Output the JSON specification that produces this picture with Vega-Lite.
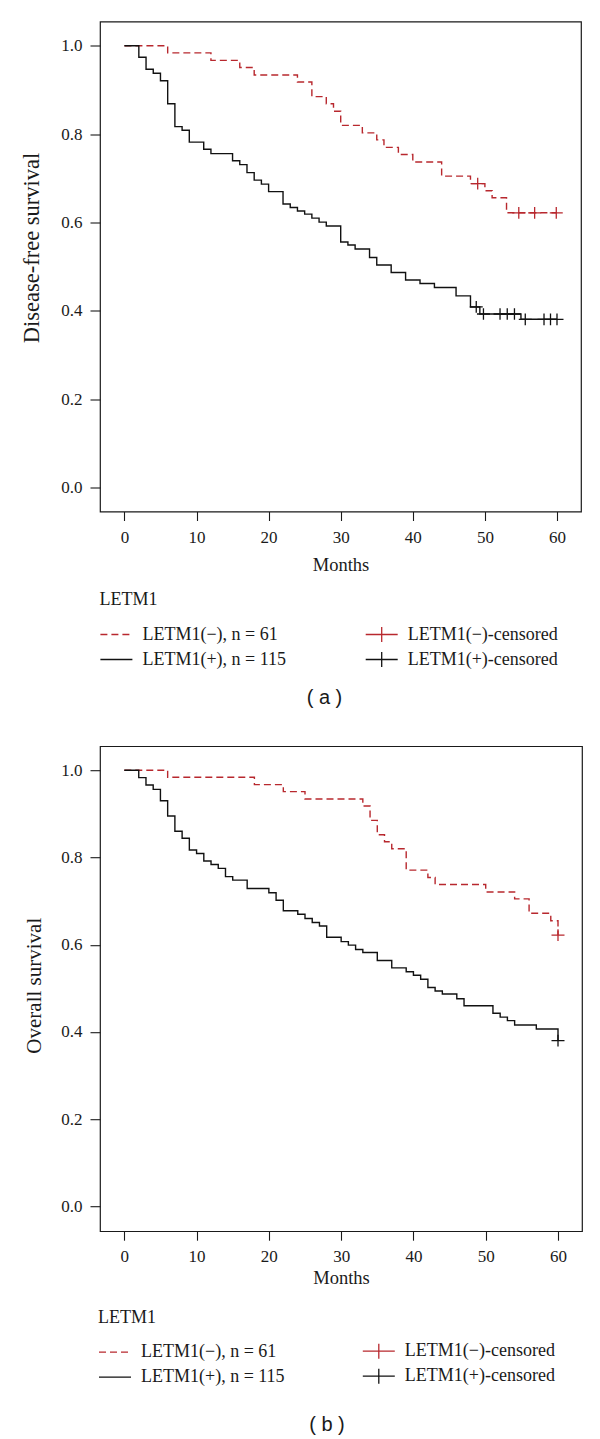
{
  "$schema": "https://vega.github.io/schema/vega-lite/v6.json",
  "padding": {"left": 20, "top": 20.5, "right": 0, "bottom": 0},
  "background": "white",
  "spacing": 36.7,
  "config": {
    "font": "Liberation Serif",
    "view": {"stroke": "#1a1a1a", "strokeWidth": 1.2},
    "axis": {"domain": false, "grid": false, "tickColor": "#1a1a1a", "tickWidth": 1.1, "labelFont": "Liberation Serif", "labelFontSize": 17, "labelColor": "#1a1a1a", "titleFont": "Liberation Serif", "titleFontWeight": "normal", "titleColor": "#1a1a1a", "labelFlush": false, "labelOverlap": false},
    "axisX": {"tickSize": 9, "labelPadding": 8.5, "titleFontSize": 18.5},
    "axisY": {"tickSize": 10, "labelPadding": 8, "titleFontSize": 21},
    "legend": {"orient": "none", "padding": 0, "offset": 0, "labelFont": "Liberation Serif", "labelFontSize": 18, "labelFontWeight": "normal", "labelColor": "#1a1a1a", "labelLimit": 400, "titleFont": "Liberation Serif", "titleFontSize": 18, "titleFontWeight": "normal", "titleColor": "#1a1a1a", "clipHeight": 18, "rowPadding": 7, "labelOffset": 9, "symbolStrokeWidth": 1.3, "symbolSize": 1024},
    "title": {"font": "Liberation Sans", "fontSize": 20, "fontWeight": "normal", "color": "#1a1a1a"}
  },
  "datasets": {
    "curves": [
      {"panel": "a", "group": "LETM1(−), n = 61", "month": 0, "surv": 1},
      {"panel": "a", "group": "LETM1(−), n = 61", "month": 6, "surv": 0.984},
      {"panel": "a", "group": "LETM1(−), n = 61", "month": 12, "surv": 0.967},
      {"panel": "a", "group": "LETM1(−), n = 61", "month": 16, "surv": 0.951},
      {"panel": "a", "group": "LETM1(−), n = 61", "month": 18, "surv": 0.934},
      {"panel": "a", "group": "LETM1(−), n = 61", "month": 24, "surv": 0.918},
      {"panel": "a", "group": "LETM1(−), n = 61", "month": 26, "surv": 0.885},
      {"panel": "a", "group": "LETM1(−), n = 61", "month": 28, "surv": 0.869},
      {"panel": "a", "group": "LETM1(−), n = 61", "month": 29, "surv": 0.852},
      {"panel": "a", "group": "LETM1(−), n = 61", "month": 30, "surv": 0.82},
      {"panel": "a", "group": "LETM1(−), n = 61", "month": 33, "surv": 0.803},
      {"panel": "a", "group": "LETM1(−), n = 61", "month": 35, "surv": 0.787},
      {"panel": "a", "group": "LETM1(−), n = 61", "month": 36, "surv": 0.77},
      {"panel": "a", "group": "LETM1(−), n = 61", "month": 38, "surv": 0.754},
      {"panel": "a", "group": "LETM1(−), n = 61", "month": 40, "surv": 0.737},
      {"panel": "a", "group": "LETM1(−), n = 61", "month": 44, "surv": 0.705},
      {"panel": "a", "group": "LETM1(−), n = 61", "month": 48, "surv": 0.688},
      {"panel": "a", "group": "LETM1(−), n = 61", "month": 50, "surv": 0.672},
      {"panel": "a", "group": "LETM1(−), n = 61", "month": 51, "surv": 0.656},
      {"panel": "a", "group": "LETM1(−), n = 61", "month": 53, "surv": 0.622},
      {"panel": "a", "group": "LETM1(−), n = 61", "month": 60, "surv": 0.622},
      {"panel": "a", "group": "LETM1(+), n = 115", "month": 0, "surv": 1},
      {"panel": "a", "group": "LETM1(+), n = 115", "month": 2, "surv": 0.974},
      {"panel": "a", "group": "LETM1(+), n = 115", "month": 3, "surv": 0.947},
      {"panel": "a", "group": "LETM1(+), n = 115", "month": 4, "surv": 0.938},
      {"panel": "a", "group": "LETM1(+), n = 115", "month": 5, "surv": 0.921},
      {"panel": "a", "group": "LETM1(+), n = 115", "month": 6, "surv": 0.869},
      {"panel": "a", "group": "LETM1(+), n = 115", "month": 7, "surv": 0.817},
      {"panel": "a", "group": "LETM1(+), n = 115", "month": 8, "surv": 0.809},
      {"panel": "a", "group": "LETM1(+), n = 115", "month": 9, "surv": 0.782},
      {"panel": "a", "group": "LETM1(+), n = 115", "month": 11, "surv": 0.766},
      {"panel": "a", "group": "LETM1(+), n = 115", "month": 12, "surv": 0.756},
      {"panel": "a", "group": "LETM1(+), n = 115", "month": 15, "surv": 0.74},
      {"panel": "a", "group": "LETM1(+), n = 115", "month": 16, "surv": 0.731},
      {"panel": "a", "group": "LETM1(+), n = 115", "month": 17, "surv": 0.713},
      {"panel": "a", "group": "LETM1(+), n = 115", "month": 18, "surv": 0.696},
      {"panel": "a", "group": "LETM1(+), n = 115", "month": 19, "surv": 0.687},
      {"panel": "a", "group": "LETM1(+), n = 115", "month": 20, "surv": 0.67},
      {"panel": "a", "group": "LETM1(+), n = 115", "month": 22, "surv": 0.642},
      {"panel": "a", "group": "LETM1(+), n = 115", "month": 23, "surv": 0.634},
      {"panel": "a", "group": "LETM1(+), n = 115", "month": 24, "surv": 0.626},
      {"panel": "a", "group": "LETM1(+), n = 115", "month": 25, "surv": 0.619},
      {"panel": "a", "group": "LETM1(+), n = 115", "month": 26, "surv": 0.61},
      {"panel": "a", "group": "LETM1(+), n = 115", "month": 27, "surv": 0.601},
      {"panel": "a", "group": "LETM1(+), n = 115", "month": 28, "surv": 0.592},
      {"panel": "a", "group": "LETM1(+), n = 115", "month": 30, "surv": 0.556},
      {"panel": "a", "group": "LETM1(+), n = 115", "month": 31, "surv": 0.549},
      {"panel": "a", "group": "LETM1(+), n = 115", "month": 32, "surv": 0.54},
      {"panel": "a", "group": "LETM1(+), n = 115", "month": 34, "surv": 0.521},
      {"panel": "a", "group": "LETM1(+), n = 115", "month": 35, "surv": 0.504},
      {"panel": "a", "group": "LETM1(+), n = 115", "month": 37, "surv": 0.487},
      {"panel": "a", "group": "LETM1(+), n = 115", "month": 39, "surv": 0.47},
      {"panel": "a", "group": "LETM1(+), n = 115", "month": 41, "surv": 0.462},
      {"panel": "a", "group": "LETM1(+), n = 115", "month": 43, "surv": 0.453},
      {"panel": "a", "group": "LETM1(+), n = 115", "month": 46, "surv": 0.434},
      {"panel": "a", "group": "LETM1(+), n = 115", "month": 48, "surv": 0.409},
      {"panel": "a", "group": "LETM1(+), n = 115", "month": 49.3, "surv": 0.393},
      {"panel": "a", "group": "LETM1(+), n = 115", "month": 55, "surv": 0.381},
      {"panel": "a", "group": "LETM1(+), n = 115", "month": 60, "surv": 0.381},
      {"panel": "b", "group": "LETM1(−), n = 61", "month": 0, "surv": 1},
      {"panel": "b", "group": "LETM1(−), n = 61", "month": 6, "surv": 0.984},
      {"panel": "b", "group": "LETM1(−), n = 61", "month": 18, "surv": 0.967},
      {"panel": "b", "group": "LETM1(−), n = 61", "month": 22, "surv": 0.951},
      {"panel": "b", "group": "LETM1(−), n = 61", "month": 25, "surv": 0.934},
      {"panel": "b", "group": "LETM1(−), n = 61", "month": 33, "surv": 0.918},
      {"panel": "b", "group": "LETM1(−), n = 61", "month": 34, "surv": 0.885},
      {"panel": "b", "group": "LETM1(−), n = 61", "month": 35, "surv": 0.852},
      {"panel": "b", "group": "LETM1(−), n = 61", "month": 36, "surv": 0.836},
      {"panel": "b", "group": "LETM1(−), n = 61", "month": 37, "surv": 0.82},
      {"panel": "b", "group": "LETM1(−), n = 61", "month": 39, "surv": 0.771},
      {"panel": "b", "group": "LETM1(−), n = 61", "month": 42, "surv": 0.754},
      {"panel": "b", "group": "LETM1(−), n = 61", "month": 43, "surv": 0.738},
      {"panel": "b", "group": "LETM1(−), n = 61", "month": 50, "surv": 0.721},
      {"panel": "b", "group": "LETM1(−), n = 61", "month": 54, "surv": 0.705},
      {"panel": "b", "group": "LETM1(−), n = 61", "month": 56, "surv": 0.672},
      {"panel": "b", "group": "LETM1(−), n = 61", "month": 59, "surv": 0.655},
      {"panel": "b", "group": "LETM1(−), n = 61", "month": 60, "surv": 0.622},
      {"panel": "b", "group": "LETM1(+), n = 115", "month": 0, "surv": 1},
      {"panel": "b", "group": "LETM1(+), n = 115", "month": 2, "surv": 0.983},
      {"panel": "b", "group": "LETM1(+), n = 115", "month": 3, "surv": 0.966},
      {"panel": "b", "group": "LETM1(+), n = 115", "month": 4, "surv": 0.956},
      {"panel": "b", "group": "LETM1(+), n = 115", "month": 5, "surv": 0.93},
      {"panel": "b", "group": "LETM1(+), n = 115", "month": 6, "surv": 0.895},
      {"panel": "b", "group": "LETM1(+), n = 115", "month": 7, "surv": 0.86},
      {"panel": "b", "group": "LETM1(+), n = 115", "month": 8, "surv": 0.844},
      {"panel": "b", "group": "LETM1(+), n = 115", "month": 9, "surv": 0.817},
      {"panel": "b", "group": "LETM1(+), n = 115", "month": 10, "surv": 0.809},
      {"panel": "b", "group": "LETM1(+), n = 115", "month": 11, "surv": 0.792},
      {"panel": "b", "group": "LETM1(+), n = 115", "month": 12, "surv": 0.784},
      {"panel": "b", "group": "LETM1(+), n = 115", "month": 13, "surv": 0.775},
      {"panel": "b", "group": "LETM1(+), n = 115", "month": 14, "surv": 0.756},
      {"panel": "b", "group": "LETM1(+), n = 115", "month": 15, "surv": 0.748},
      {"panel": "b", "group": "LETM1(+), n = 115", "month": 17, "surv": 0.729},
      {"panel": "b", "group": "LETM1(+), n = 115", "month": 20, "surv": 0.719},
      {"panel": "b", "group": "LETM1(+), n = 115", "month": 21, "surv": 0.702},
      {"panel": "b", "group": "LETM1(+), n = 115", "month": 22, "surv": 0.678},
      {"panel": "b", "group": "LETM1(+), n = 115", "month": 24, "surv": 0.67},
      {"panel": "b", "group": "LETM1(+), n = 115", "month": 25, "surv": 0.66},
      {"panel": "b", "group": "LETM1(+), n = 115", "month": 26, "surv": 0.651},
      {"panel": "b", "group": "LETM1(+), n = 115", "month": 27, "surv": 0.643},
      {"panel": "b", "group": "LETM1(+), n = 115", "month": 28, "surv": 0.617},
      {"panel": "b", "group": "LETM1(+), n = 115", "month": 30, "surv": 0.607},
      {"panel": "b", "group": "LETM1(+), n = 115", "month": 31, "surv": 0.599},
      {"panel": "b", "group": "LETM1(+), n = 115", "month": 32, "surv": 0.589},
      {"panel": "b", "group": "LETM1(+), n = 115", "month": 33, "surv": 0.582},
      {"panel": "b", "group": "LETM1(+), n = 115", "month": 35, "surv": 0.564},
      {"panel": "b", "group": "LETM1(+), n = 115", "month": 37, "surv": 0.547},
      {"panel": "b", "group": "LETM1(+), n = 115", "month": 39, "surv": 0.538},
      {"panel": "b", "group": "LETM1(+), n = 115", "month": 40, "surv": 0.53},
      {"panel": "b", "group": "LETM1(+), n = 115", "month": 41, "surv": 0.521},
      {"panel": "b", "group": "LETM1(+), n = 115", "month": 42, "surv": 0.502},
      {"panel": "b", "group": "LETM1(+), n = 115", "month": 43, "surv": 0.494},
      {"panel": "b", "group": "LETM1(+), n = 115", "month": 44, "surv": 0.487},
      {"panel": "b", "group": "LETM1(+), n = 115", "month": 46, "surv": 0.476},
      {"panel": "b", "group": "LETM1(+), n = 115", "month": 47, "surv": 0.46},
      {"panel": "b", "group": "LETM1(+), n = 115", "month": 51, "surv": 0.443},
      {"panel": "b", "group": "LETM1(+), n = 115", "month": 52, "surv": 0.434},
      {"panel": "b", "group": "LETM1(+), n = 115", "month": 53, "surv": 0.426},
      {"panel": "b", "group": "LETM1(+), n = 115", "month": 54, "surv": 0.416},
      {"panel": "b", "group": "LETM1(+), n = 115", "month": 57, "surv": 0.407},
      {"panel": "b", "group": "LETM1(+), n = 115", "month": 60, "surv": 0.38}
    ],
    "censors": [
      {"panel": "a", "cgroup": "LETM1(−)-censored", "month": 49, "surv": 0.688},
      {"panel": "a", "cgroup": "LETM1(−)-censored", "month": 54.7, "surv": 0.622},
      {"panel": "a", "cgroup": "LETM1(−)-censored", "month": 56.9, "surv": 0.622},
      {"panel": "a", "cgroup": "LETM1(−)-censored", "month": 59.9, "surv": 0.622},
      {"panel": "a", "cgroup": "LETM1(+)-censored", "month": 48.8, "surv": 0.409},
      {"panel": "a", "cgroup": "LETM1(+)-censored", "month": 49.8, "surv": 0.393},
      {"panel": "a", "cgroup": "LETM1(+)-censored", "month": 52.1, "surv": 0.393},
      {"panel": "a", "cgroup": "LETM1(+)-censored", "month": 53.1, "surv": 0.393},
      {"panel": "a", "cgroup": "LETM1(+)-censored", "month": 54.1, "surv": 0.393},
      {"panel": "a", "cgroup": "LETM1(+)-censored", "month": 55.6, "surv": 0.381},
      {"panel": "a", "cgroup": "LETM1(+)-censored", "month": 58.2, "surv": 0.381},
      {"panel": "a", "cgroup": "LETM1(+)-censored", "month": 59.1, "surv": 0.381},
      {"panel": "a", "cgroup": "LETM1(+)-censored", "month": 60, "surv": 0.381},
      {"panel": "b", "cgroup": "LETM1(−)-censored", "month": 60, "surv": 0.622},
      {"panel": "b", "cgroup": "LETM1(+)-censored", "month": 60, "surv": 0.38}
    ]
  },
  "vconcat": [
    {
      "width": 481,
      "height": 490,
      "title": {"text": "( a )", "orient": "bottom", "frame": "group", "anchor": "middle", "dx": -16, "offset": 19},
      "layer": [
        {
          "data": {"name": "curves"},
          "transform": [{"filter": "datum.panel == 'a'"}],
          "mark": {"type": "line", "interpolate": "step-after", "strokeWidth": 1.4},
          "encoding": {
            "x": {"field": "month", "type": "quantitative", "scale": {"domain": [-3.387, 63.33], "nice": false, "zero": false}, "axis": {"values": [0, 10, 20, 30, 40, 50, 60], "title": "Months", "titlePadding": 10.5}},
            "y": {"field": "surv", "type": "quantitative", "scale": {"domain": [-0.054, 1.055], "nice": false, "zero": false}, "axis": {"values": [0, 0.2, 0.4, 0.6, 0.8, 1], "format": ".1f", "title": "Disease-free survival", "titlePadding": 17, "titleFontSize": 22.5, "titleY": 226}},
            "color": {"field": "group", "type": "nominal", "scale": {"domain": ["LETM1(−), n = 61", "LETM1(+), n = 115"], "range": ["#b8282e", "#111111"]}, "legend": {"title": "LETM1", "legendX": -0.6, "legendY": 569, "titlePadding": 17, "symbolType": "stroke", "encode": {"symbols": {"update": {"strokeDash": {"signal": "indexof(datum.value, '−') >= 0 ? [7, 4] : [1, 0]"}}}}}},
            "strokeDash": {"field": "group", "type": "nominal", "scale": {"domain": ["LETM1(−), n = 61", "LETM1(+), n = 115"], "range": [[7, 4], [1, 0]]}, "legend": null}
          }
        },
        {
          "data": {"name": "censors"},
          "transform": [{"filter": "datum.panel == 'a'"}],
          "mark": {"type": "point", "shape": "M-1,0L1,0M0,-0.9L0,0.9", "filled": false, "size": 169, "strokeWidth": 1.3, "opacity": 1},
          "encoding": {
            "x": {"field": "month", "type": "quantitative"},
            "y": {"field": "surv", "type": "quantitative"},
            "color": {"field": "cgroup", "type": "nominal", "scale": {"domain": ["LETM1(−)-censored", "LETM1(+)-censored"], "range": ["#b8282e", "#111111"]}, "legend": {"title": null, "legendX": 264.7, "legendY": 604, "symbolType": "M-1,0L1,0M0,-0.47L0,0.47"}}
          }
        }
      ],
      "resolve": {"scale": {"color": "independent"}}
    },
    {
      "width": 482,
      "height": 485,
      "title": {"text": "( b )", "orient": "bottom", "frame": "group", "anchor": "middle", "dx": -14, "offset": 29},
      "layer": [
        {
          "data": {"name": "curves"},
          "transform": [{"filter": "datum.panel == 'b'"}],
          "mark": {"type": "line", "interpolate": "step-after", "strokeWidth": 1.4},
          "encoding": {
            "x": {"field": "month", "type": "quantitative", "scale": {"domain": [-3.36, 63.32], "nice": false, "zero": false}, "axis": {"values": [0, 10, 20, 30, 40, 50, 60], "title": "Months", "titlePadding": 4.2}},
            "y": {"field": "surv", "type": "quantitative", "scale": {"domain": [-0.0566, 1.055], "nice": false, "zero": false}, "axis": {"values": [0, 0.2, 0.4, 0.6, 0.8, 1], "format": ".1f", "title": "Overall survival", "titlePadding": 16.4, "titleY": 239}},
            "color": {"field": "group", "type": "nominal", "scale": {"domain": ["LETM1(−), n = 61", "LETM1(+), n = 115"], "range": ["#b8282e", "#111111"]}, "legend": {"title": "LETM1", "legendX": -2, "legendY": 563, "titlePadding": 16, "symbolType": "stroke", "encode": {"symbols": {"update": {"strokeDash": {"signal": "indexof(datum.value, '−') >= 0 ? [7, 4] : [1, 0]"}}}}}},
            "strokeDash": {"field": "group", "type": "nominal", "scale": {"domain": ["LETM1(−), n = 61", "LETM1(+), n = 115"], "range": [[7, 4], [1, 0]]}, "legend": null}
          }
        },
        {
          "data": {"name": "censors"},
          "transform": [{"filter": "datum.panel == 'b'"}],
          "mark": {"type": "point", "shape": "M-1,0L1,0M0,-0.9L0,0.9", "filled": false, "size": 169, "strokeWidth": 1.3, "opacity": 1},
          "encoding": {
            "x": {"field": "month", "type": "quantitative"},
            "y": {"field": "surv", "type": "quantitative"},
            "color": {"field": "cgroup", "type": "nominal", "scale": {"domain": ["LETM1(−)-censored", "LETM1(+)-censored"], "range": ["#b8282e", "#111111"]}, "legend": {"title": null, "legendX": 261.8, "legendY": 596, "symbolType": "M-1,0L1,0M0,-0.47L0,0.47"}}
          }
        }
      ],
      "resolve": {"scale": {"color": "independent"}}
    }
  ],
  "resolve": {"scale": {"color": "independent", "strokeDash": "independent"}}
}
